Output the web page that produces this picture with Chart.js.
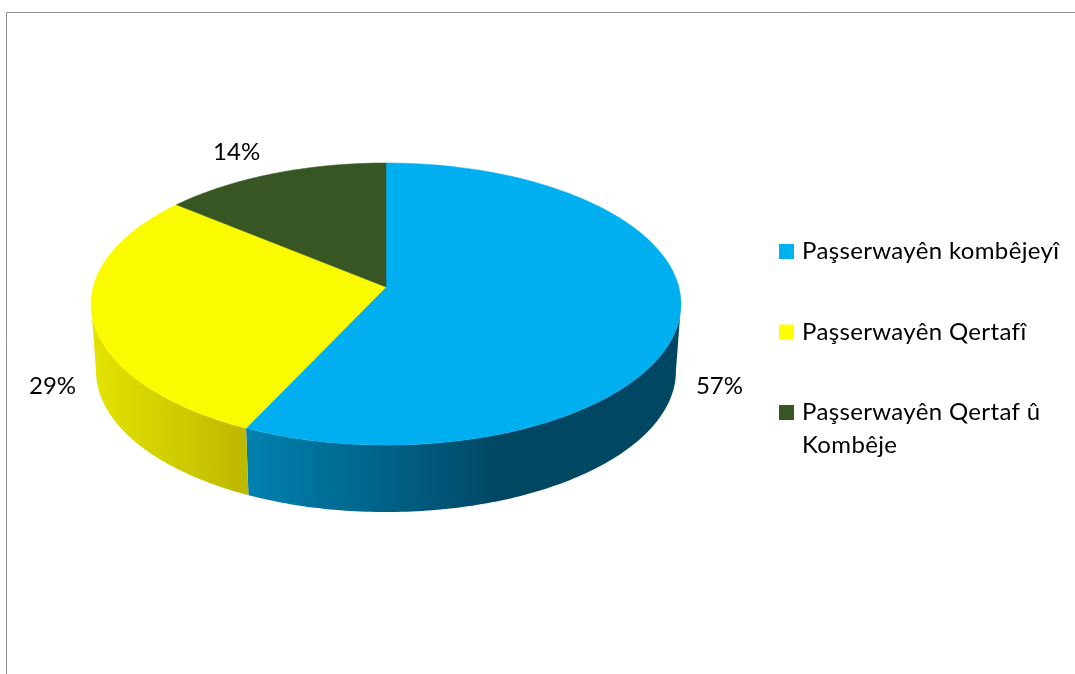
<!DOCTYPE html>
<html>
<head>
<meta charset="utf-8">
<style>
  html, body { margin: 0; padding: 0; background: #fff; }
  #wrap { width: 1075px; height: 674px; }
</style>
</head>
<body>
<div id="wrap"><canvas id="pie" width="1075" height="674"></canvas></div>
<script src="https://cdn.jsdelivr.net/npm/chart.js@4"></script>
<script>
const categories = ['Paşserwayên kombêjeyî', 'Paşserwayên Qertafî', 'Paşserwayên Qertaf û Kombêje'];
const shares = [57, 29, 14];
const legendLines = [['Paşserwayên kombêjeyî'], ['Paşserwayên Qertafî'], ['Paşserwayên Qertaf û', 'Kombêje']];
const colors = ['#00B0F0', '#FFFF00', '#375623'];
const faceColors = ['#00AFEF', '#FAFA00', '#375623'];

// wall shading, stops run from the start to the end of each slice's wall
const wallShades = [
  [[0, '#004764'], [0.41, '#004764'], [1, '#0081b0']],
  [[0, '#bdb800'], [1, '#e4e400']],
  [[0, '#263c18'], [1, '#263c18']]
];

// perspective of the tilted disc: Chart.js lays the pie out round, these bend it
const tilt = 0.1206;       // how much nearer the front edge is
const flatten = 139 / 295; // height of the disc against its width
const widen = 292.8 / 295;
const wallDepth = 67;
const wallNarrow = 0.983;

const labelFont = '24px Lato';
const legendSpacing = '0.35px';
const labelOffsets = [[40, 68], [-40, 68], [-37, -21]];

// maps an angle on the library's round arc to a point on the tilted disc
function project(arc, t) {
  const u = Math.cos(t), v = Math.sin(t);
  const w = 1 - tilt * v;
  return {
    x: arc.x + arc.outerRadius * widen * u / w,
    y: arc.y - 17 + arc.outerRadius * flatten * v / w
  };
}

function rimPoints(arc, a, b) {
  const pts = [];
  const steps = 120;
  for (let i = 0; i <= steps; i++) pts.push(project(arc, a + (b - a) * i / steps));
  return pts;
}

const disc3d = {
  id: 'disc3d',
  beforeDraw(chart) {
    const ctx = chart.ctx;
    ctx.save();
    ctx.strokeStyle = '#8c8c8c';
    ctx.lineWidth = 1;
    ctx.beginPath();
    ctx.moveTo(6.5, chart.height);
    ctx.lineTo(6.5, 12.5);
    ctx.lineTo(chart.width, 12.5);
    ctx.stroke();
    ctx.restore();
  },
  // the round arcs can't take a perspective transform, so they are drawn here
  beforeDatasetDraw(chart) {
    const ctx = chart.ctx;
    const arcs = chart.getDatasetMeta(0).data;
    const edge = Math.asin(tilt); // where the rim turns away from the viewer

    arcs.forEach((arc, i) => {
      const a = Math.max(arc.startAngle, edge);
      const b = Math.min(arc.endAngle, Math.PI - edge);
      if (a >= b) return;
      const rim = rimPoints(arc, a, b);
      const grad = ctx.createLinearGradient(rim[0].x, 0, rim[rim.length - 1].x, 0);
      wallShades[i].forEach(s => grad.addColorStop(s[0], s[1]));
      ctx.fillStyle = grad;
      ctx.beginPath();
      rim.forEach((p, n) => n ? ctx.lineTo(p.x, p.y) : ctx.moveTo(p.x, p.y));
      rim.reverse().forEach(p => ctx.lineTo(arc.x + (p.x - arc.x) * wallNarrow, p.y + wallDepth));
      ctx.closePath();
      ctx.fill();
    });

    arcs.forEach(arc => {
      ctx.fillStyle = ctx.strokeStyle = arc.options.backgroundColor;
      ctx.lineWidth = 0.5;
      ctx.beginPath();
      ctx.moveTo(arc.x, arc.y - 17);
      rimPoints(arc, arc.startAngle, arc.endAngle).forEach(p => ctx.lineTo(p.x, p.y));
      ctx.closePath();
      ctx.fill();
      ctx.stroke();
    });
    return false;
  },
  afterDatasetsDraw(chart) {
    const ctx = chart.ctx;
    const arcs = chart.getDatasetMeta(0).data;

    // percent labels
    ctx.save();
    ctx.font = labelFont;
    ctx.fillStyle = '#000';
    ctx.textAlign = 'center';
    ctx.textBaseline = 'middle';
    arcs.forEach((arc, i) => {
      const p = project(arc, (arc.startAngle + arc.endAngle) / 2);
      ctx.fillText(shares[i] + '%', p.x + labelOffsets[i][0], p.y + labelOffsets[i][1]);
    });

    // legend, Chart.js does not wrap legend text so it goes here
    ctx.textAlign = 'left';
    ctx.textBaseline = 'alphabetic';
    ctx.letterSpacing = legendSpacing;
    let top = 244;
    legendLines.forEach((lines, i) => {
      ctx.fillStyle = colors[i];
      ctx.fillRect(779, top, 15, 15);
      ctx.fillStyle = '#000';
      lines.forEach((t, n) => ctx.fillText(t, 802, top + 15 + n * 33));
      top += 80.5;
    });
    ctx.restore();
  }
};

new Chart(document.getElementById('pie').getContext('2d'), {
  type: 'pie',
  data: {
    labels: categories,
    datasets: [{ data: shares, backgroundColor: faceColors, borderWidth: 0 }]
  },
  options: {
    responsive: false,
    animation: false,
    layout: { padding: { left: 91, right: 394, top: 9, bottom: 75 } },
    plugins: { legend: { display: false }, tooltip: { enabled: false } }
  },
  plugins: [disc3d]
});
</script>
</body>
</html>
